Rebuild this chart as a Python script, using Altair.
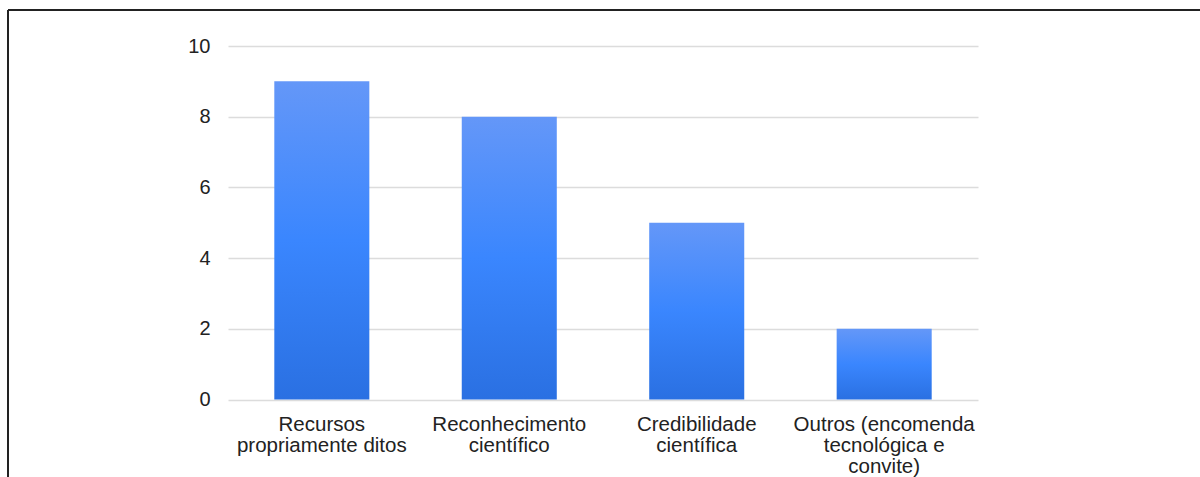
import altair as alt
import pandas as pd

categories = [
    "Recursos propriamente ditos",
    "Reconhecimento científico",
    "Credibilidade científica",
    "Outros (encomenda tecnológica e convite)",
]
label_lines = [
    ["Recursos", "propriamente ditos"],
    ["Reconhecimento", "científico"],
    ["Credibilidade", "científica"],
    ["Outros (encomenda", "tecnológica e", "convite)"],
]
values = [9, 8, 5, 2]
y_ticks = [0, 2, 4, 6, 8, 10]

df = pd.DataFrame({"categoria": categories, "valor": values})

label_expr = "{" + ", ".join(
    f'"{c}": {lines!r}'.replace("'", '"') for c, lines in zip(categories, label_lines)
) + "}[datum.value]"

FONT = "Liberation Sans"
W, H = 750, 353.5
PAD_L, PAD_T = 228, 46

bar_fill = alt.Gradient(
    gradient="linear",
    x1=0, x2=0, y1=0, y2=1,
    stops=[
        alt.GradientStop(color="#6497f8", offset=0),
        alt.GradientStop(color="#3a86fe", offset=0.5),
        alt.GradientStop(color="#2a70e2", offset=1),
    ],
)

bars = alt.Chart(df).mark_bar(color=bar_fill).encode(
    x=alt.X(
        "categoria:N",
        sort=categories,
        scale=alt.Scale(paddingInner=0.493, paddingOuter=0.247),
        axis=alt.Axis(
            title=None,
            labelAngle=0,
            labelExpr=label_expr,
            labelFont=FONT,
            labelFontSize=20.5,
            labelLineHeight=21,
            labelColor="#222222",
            labelPadding=15,
            ticks=False,
            domain=False,
            grid=False,
            labelLimit=300,
        ),
    ),
    y=alt.Y(
        "valor:Q",
        scale=alt.Scale(domain=[0, 10]),
        axis=alt.Axis(
            title=None,
            values=y_ticks,
            labelFont=FONT,
            labelFontSize=20,
            labelColor="#222222",
            labelPadding=18,
            ticks=False,
            domain=False,
            gridColor="#dcdcdc",
            gridWidth=1.5,
        ),
    ),
)

# frame lines along the top and left edge of the page
frame_top = alt.Chart(df).mark_rule(color="#222222", strokeWidth=1.5).encode(
    x=alt.value(-(PAD_L - 8)), x2=alt.value(1200 - PAD_L), y=alt.value(-(PAD_T - 10))
)
frame_left = alt.Chart(df).mark_rule(color="#222222", strokeWidth=1.5).encode(
    x=alt.value(-(PAD_L - 8)), y=alt.value(-(PAD_T - 10)), y2=alt.value(477 - PAD_T)
)

chart = (
    alt.layer(bars, frame_top, frame_left)
    .properties(
        width=W,
        height=H,
        autosize=alt.AutoSizeParams(type="none"),
        padding={"left": PAD_L, "top": PAD_T, "right": 1200 - PAD_L - W, "bottom": 477 - PAD_T - H},
        background="white",
    )
    .configure_view(stroke=None)
)

chart.save("out.html", embed_options={"renderer": "svg", "actions": False})
